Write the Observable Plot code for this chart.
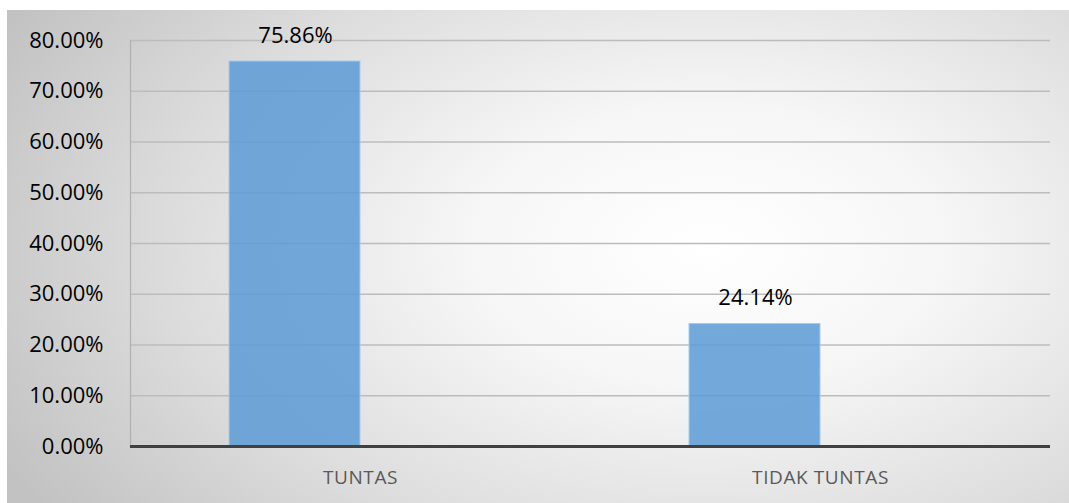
<!DOCTYPE html>
<html>
<head>
<meta charset="utf-8">
<script src="https://cdn.jsdelivr.net/npm/d3@7"></script>
<script src="https://cdn.jsdelivr.net/npm/@observablehq/plot@0.6"></script>
<style>
  html, body { margin: 0; padding: 0; background: #ffffff; }
  #wrap { position: relative; width: 1069px; height: 503px; overflow: hidden; }
  #bg { position: absolute; left: 7px; top: 10px; right: 0; bottom: 0;
        background: radial-gradient(ellipse 75% 95% at 66% 48%, #ffffff 0%, #f6f6f6 30%, #dcdcdc 68%, #c2c2c2 100%); }
  #chart { position: absolute; left: 0; top: 0; }
  .cat text { letter-spacing: 0.6px; }
</style>
</head>
<body>
<div id="wrap"><div id="bg"></div><div id="chart"></div></div>
<script>
const categories = ["TUNTAS", "TIDAK TUNTAS"];
const values = [0.7586, 0.2414];
const valueLabels = ["75.86%", "24.14%"];
const yTicks = [0, 0.1, 0.2, 0.3, 0.4, 0.5, 0.6, 0.7, 0.8];

const data = categories.map((c, i) => ({category: c, value: values[i], label: valueLabels[i]}));

const chart = Plot.plot({
  width: 1069,
  height: 503,
  marginTop: 40,
  marginBottom: 57,
  marginLeft: 130,
  marginRight: 19,
  style: {background: "transparent", fontFamily: "'Open Sans', sans-serif"},
  x: {domain: categories, padding: 0, label: null},
  y: {domain: [0, 0.8], label: null},
  marks: [
    Plot.ruleY(yTicks.filter(d => d > 0), {stroke: "#bcbcbc", strokeWidth: 1.3}),
    Plot.ruleX([0], {x: () => categories[0], y1: 0, y2: 0.8, stroke: "#b0b0b0", strokeWidth: 1.2, dx: -230}),
    Plot.barY(data, {x: "category", y: "value", fill: "#5b9bd5", fillOpacity: 0.85, stroke: "#a8c9ea", strokeWidth: 1, insetLeft: 99, insetRight: 230}),
    Plot.text(data, {x: "category", y: "value", text: "label", dx: -65, dy: -26, fontSize: 22, fill: "#000000"}),
    Plot.ruleY([0], {stroke: "#404040", strokeWidth: 3}),
    Plot.axisY({ticks: yTicks, tickFormat: d => d3.format(".2%")(d), tickSize: 0, tickPadding: 27, fontSize: 22, fill: "#000000", label: null}),
    Plot.axisX({tickSize: 0, tickPadding: 24, fontSize: 19, fill: "#595959", label: null, className: "cat"})
  ]
});
document.getElementById("chart").appendChild(chart);
</script>
</body>
</html>
